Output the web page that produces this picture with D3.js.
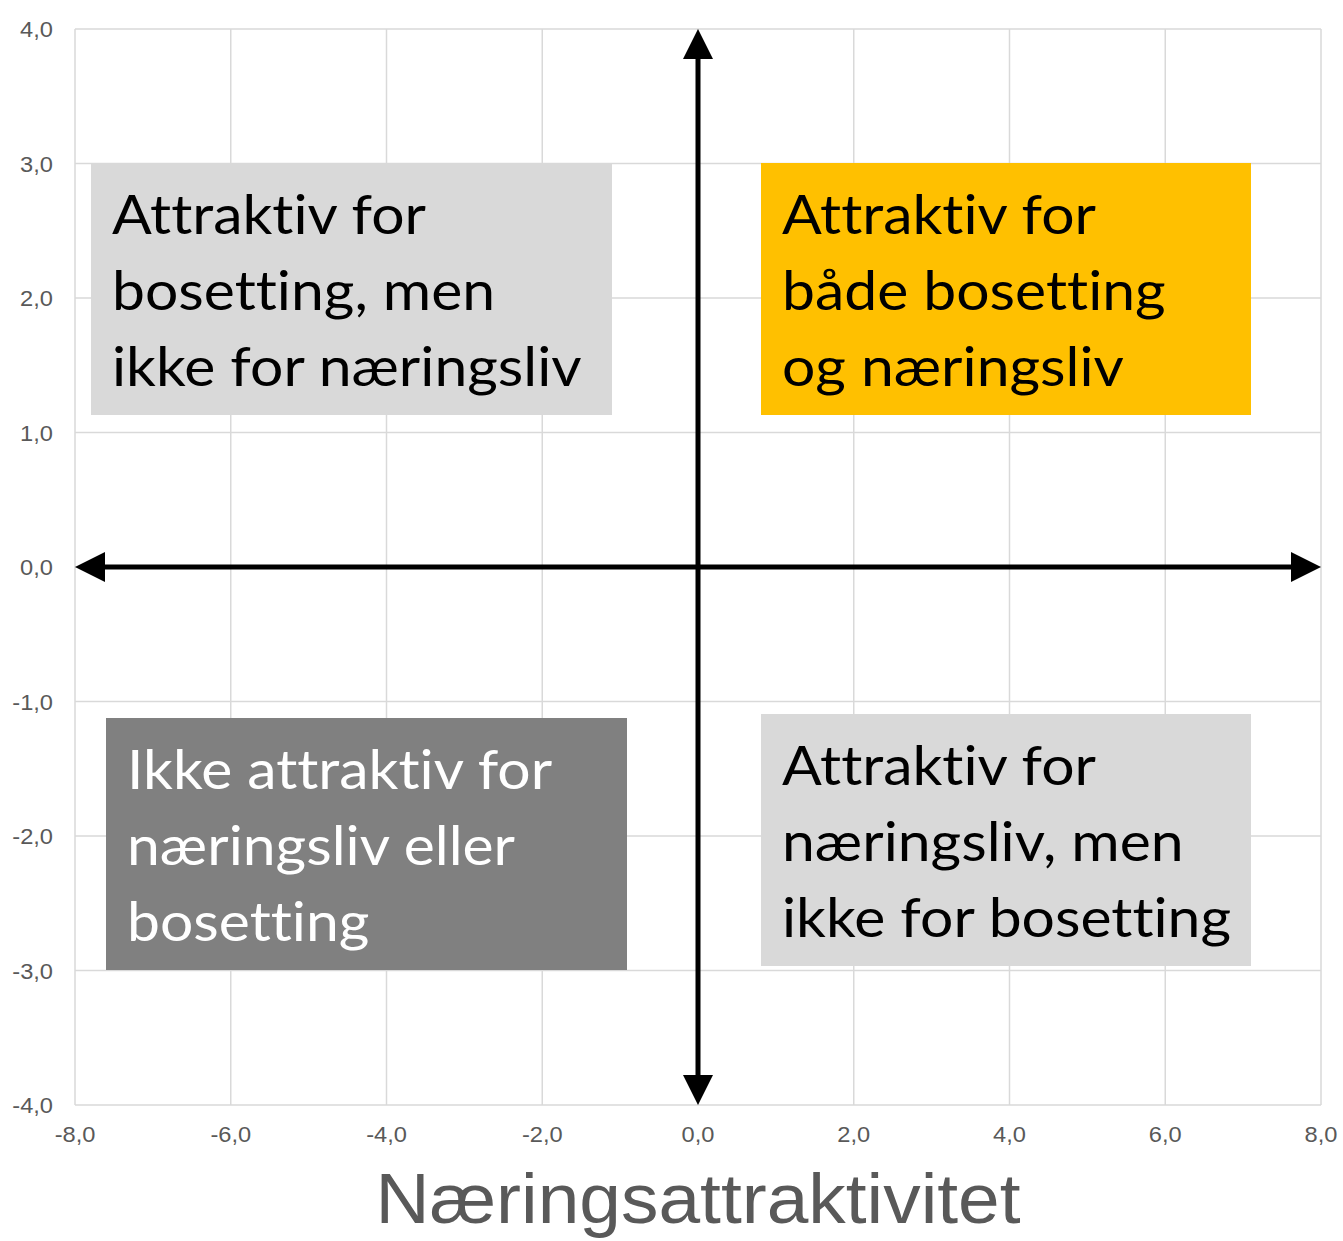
<!DOCTYPE html>
<html><head><meta charset="utf-8">
<script src="https://cdn.jsdelivr.net/npm/d3@7"></script>
<style>body{margin:0;background:#fff}svg{display:block}text{font-variant-ligatures:none}</style>
</head><body>
<svg id="c" width="1343" height="1241"></svg>
<script>
const xTicks = [-8,-6,-4,-2,0,2,4,6,8];
const yTicks = [-4,-3,-2,-1,0,1,2,3,4];
const xLabel = "Næringsattraktivitet";
const quadrantTexts = [
  ["Attraktiv for","bosetting, men","ikke for næringsliv"],
  ["Attraktiv for","både bosetting","og næringsliv"],
  ["Ikke attraktiv for","næringsliv eller","bosetting"],
  ["Attraktiv for","næringsliv, men","ikke for bosetting"]
];
const quadrantFills = ["#D9D9D9","#FFC000","#808080","#D9D9D9"];
const quadrantTextColors = ["#000","#000","#fff","#000"];

const svg = d3.select("#c");
const L=75,R=1321,T=29,B=1105;
const x = d3.scaleLinear().domain([-8,8]).range([L,R]);
const y = d3.scaleLinear().domain([-4,4]).range([B,T]);
const fmt = d => d3.format(".1f")(d).replace(".",",").replace("−","-");

// grid
svg.append("g").selectAll("line").data(xTicks).join("line")
  .attr("x1",d=>x(d)).attr("x2",d=>x(d)).attr("y1",T).attr("y2",B)
  .attr("stroke","#D9D9D9").attr("stroke-width",1.5);
svg.append("g").selectAll("line").data(yTicks).join("line")
  .attr("y1",d=>y(d)).attr("y2",d=>y(d)).attr("x1",L).attr("x2",R)
  .attr("stroke","#D9D9D9").attr("stroke-width",1.5);

// tick labels
svg.append("g").selectAll("text").data(yTicks).join("text")
  .attr("transform",d=>`translate(53,${y(d)+8}) scale(1.1,1)`).attr("text-anchor","end")
  .attr("font-family","Liberation Sans, Arial, sans-serif").attr("font-size",21.5).attr("fill","#595959")
  .text(fmt);
svg.append("g").selectAll("text").data(xTicks).join("text")
  .attr("transform",d=>`translate(${x(d)},1142) scale(1.1,1)`).attr("text-anchor","middle")
  .attr("font-family","Liberation Sans, Arial, sans-serif").attr("font-size",21.5).attr("fill","#595959")
  .text(fmt);

// axis title
svg.append("text").attr("transform",`translate(${x(0)},1223) scale(1.055,1)`).attr("text-anchor","middle")
  .attr("font-family","Liberation Sans, Arial, sans-serif").attr("font-size",71).attr("fill","#595959")
  .text(xLabel);

// quadrant boxes
const boxes = [
  {x:91,y:163,w:521,h:252,tx:112,ty:234},
  {x:761,y:163,w:490,h:252,tx:782,ty:234},
  {x:106,y:718,w:521,h:252,tx:127,ty:789},
  {x:761,y:714,w:490,h:252,tx:782,ty:785}
];
boxes.forEach((b,i)=>{
  svg.append("rect").attr("x",b.x).attr("y",b.y).attr("width",b.w).attr("height",b.h).attr("fill",quadrantFills[i]);
  const t = svg.append("text").attr("font-family","Lato, 'Open Sans', sans-serif").attr("font-size",54)
    .attr("fill",quadrantTextColors[i])
    .attr("transform",`translate(${b.tx},${b.ty}) scale(1.09,1)`);
  quadrantTexts[i].forEach((s,j)=>{
    t.append("tspan").attr("x",0).attr("y",j*76).text(s);
  });
});

// arrows
const axG = svg.append("g");
axG.append("line").attr("x1",x(-8)+20).attr("x2",x(8)-20).attr("y1",y(0)).attr("y2",y(0)).attr("stroke","#000").attr("stroke-width",5);
axG.append("line").attr("y1",y(4)+20).attr("y2",y(-4)-20).attr("x1",x(0)).attr("x2",x(0)).attr("stroke","#000").attr("stroke-width",5);
const hw=15, hl=30;
const X0=x(0), Y0=y(0);
axG.append("path").attr("d",`M${x(-8)},${Y0} L${x(-8)+hl},${Y0-hw} L${x(-8)+hl},${Y0+hw}Z`);
axG.append("path").attr("d",`M${x(8)},${Y0} L${x(8)-hl},${Y0-hw} L${x(8)-hl},${Y0+hw}Z`);
axG.append("path").attr("d",`M${X0},${y(4)} L${X0-hw},${y(4)+hl} L${X0+hw},${y(4)+hl}Z`);
axG.append("path").attr("d",`M${X0},${y(-4)} L${X0-hw},${y(-4)-hl} L${X0+hw},${y(-4)-hl}Z`);
</script>
</body></html>
